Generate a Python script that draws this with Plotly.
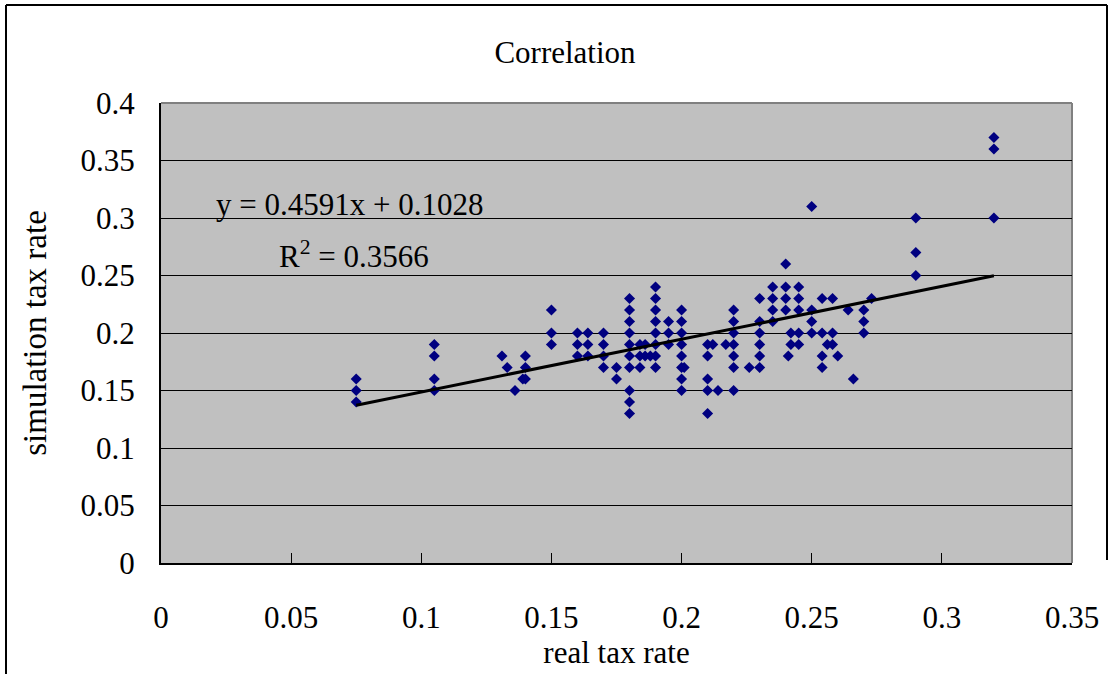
import plotly.graph_objects as go

# real tax rate (x) and simulation tax rate (y)
real_rate = [
    0.075, 0.075, 0.075,
    0.105, 0.105, 0.105, 0.105,
    0.131, 0.133, 0.136, 0.139,
    0.14, 0.14, 0.14,
    0.15, 0.15, 0.15,
    0.16, 0.16, 0.16,
    0.164, 0.164, 0.164,
    0.17, 0.17, 0.17, 0.17,
    0.175, 0.175,
    0.18, 0.18, 0.18, 0.18, 0.18, 0.18, 0.18, 0.18, 0.18, 0.18,
    0.184, 0.184, 0.184,
    0.186, 0.186,
    0.188,
    0.19, 0.19, 0.19, 0.19, 0.19, 0.19, 0.19, 0.19,
    0.195, 0.195, 0.195,
    0.20, 0.20, 0.20, 0.20, 0.20, 0.20, 0.20, 0.20,
    0.201,
    0.21, 0.21, 0.21, 0.21, 0.21,
    0.212, 0.214, 0.217,
    0.22, 0.22, 0.22, 0.22, 0.22, 0.22, 0.22,
    0.226,
    0.23, 0.23, 0.23, 0.23, 0.23, 0.23,
    0.235, 0.235, 0.235, 0.235,
    0.24, 0.24, 0.24, 0.24,
    0.241,
    0.242, 0.242,
    0.245, 0.245, 0.245, 0.245, 0.245,
    0.25, 0.25, 0.25, 0.25,
    0.254, 0.254, 0.254, 0.254,
    0.256,
    0.258, 0.258, 0.258,
    0.26, 0.264, 0.266,
    0.27, 0.27, 0.27,
    0.273,
    0.29, 0.29, 0.29,
    0.32, 0.32, 0.32,
]
sim_rate = [
    0.16, 0.15, 0.14,
    0.19, 0.18, 0.16, 0.15,
    0.18, 0.17, 0.15, 0.16,
    0.18, 0.17, 0.16,
    0.22, 0.20, 0.19,
    0.20, 0.19, 0.18,
    0.20, 0.19, 0.18,
    0.20, 0.19, 0.18, 0.17,
    0.17, 0.16,
    0.23, 0.22, 0.21, 0.20, 0.19, 0.18, 0.17, 0.15, 0.14, 0.13,
    0.19, 0.18, 0.17,
    0.19, 0.18,
    0.18,
    0.24, 0.23, 0.22, 0.21, 0.20, 0.19, 0.18, 0.17,
    0.21, 0.20, 0.19,
    0.22, 0.21, 0.20, 0.19, 0.18, 0.17, 0.16, 0.15,
    0.17,
    0.19, 0.18, 0.16, 0.15, 0.13,
    0.19, 0.15, 0.19,
    0.22, 0.21, 0.20, 0.19, 0.18, 0.17, 0.15,
    0.17,
    0.23, 0.21, 0.20, 0.19, 0.18, 0.17,
    0.24, 0.23, 0.22, 0.21,
    0.26, 0.24, 0.23, 0.22,
    0.18,
    0.20, 0.19,
    0.24, 0.23, 0.22, 0.20, 0.19,
    0.31, 0.22, 0.21, 0.20,
    0.23, 0.20, 0.18, 0.17,
    0.19,
    0.23, 0.20, 0.19,
    0.18, 0.22, 0.16,
    0.22, 0.21, 0.20,
    0.23,
    0.30, 0.27, 0.25,
    0.37, 0.36, 0.30,
]

slope = 0.4591
intercept = 0.1028
r_squared = 0.3566

x_ticks = [0, 0.05, 0.1, 0.15, 0.2, 0.25, 0.3, 0.35]
x_tick_labels = ["0", "0.05", "0.1", "0.15", "0.2", "0.25", "0.3", "0.35"]
y_ticks = [0, 0.05, 0.1, 0.15, 0.2, 0.25, 0.3, 0.35, 0.4]
y_tick_labels = ["0", "0.05", "0.1", "0.15", "0.2", "0.25", "0.3", "0.35", "0.4"]

FONT = "Liberation Serif, Times New Roman, serif"
FS = 31

x_lo, x_hi = min(real_rate), max(real_rate)
trend_x = [x_lo, x_hi]
trend_y = [slope * v + intercept for v in trend_x]

fig = go.Figure()
fig.add_trace(go.Scatter(
    x=real_rate, y=sim_rate, mode="markers",
    marker=dict(symbol="diamond", size=8.5, color="#000080",
                line=dict(width=0)),
    showlegend=False, cliponaxis=False,
))
fig.add_trace(go.Scatter(
    x=trend_x, y=trend_y, mode="lines",
    line=dict(color="black", width=3),
    showlegend=False,
))

W, H = 1113, 674
L, R, T, B = 161, 1072, 103, 563

def px(xp):
    return (xp - L) / (R - L)

def py(yp):
    return (B - yp) / (B - T)

shapes = [
    # grey plot border top and right
    dict(type="line", xref="paper", yref="paper", x0=0, x1=1, y0=1, y1=1,
         line=dict(color="#808080", width=2), layer="below"),
    dict(type="line", xref="paper", yref="paper", x0=1, x1=1, y0=0, y1=1,
         line=dict(color="#808080", width=2), layer="below"),
    # outer frame
    dict(type="line", xref="paper", yref="paper", x0=px(6), x1=px(6),
         y0=py(5), y1=py(680), line=dict(color="black", width=2)),
    dict(type="line", xref="paper", yref="paper", x0=px(6), x1=px(1107),
         y0=py(5), y1=py(5), line=dict(color="black", width=2)),
    dict(type="line", xref="paper", yref="paper", x0=px(1107), x1=px(1107),
         y0=py(5), y1=py(560), line=dict(color="black", width=2)),
]

fig.update_layout(
    width=W, height=H,
    margin=dict(l=L, r=W - R, t=T, b=H - B),
    paper_bgcolor="white", plot_bgcolor="#C0C0C0",
    font=dict(family=FONT, size=FS, color="black"),
    title=dict(text="Correlation", xref="container", x=565 / W,
               xanchor="center", yref="container",
               y=1 - 52 / H, yanchor="middle",
               font=dict(family=FONT, size=FS, color="black")),
    shapes=shapes,
    annotations=[
        dict(x=0.0205, y=0.312, xref="x", yref="y", xanchor="left",
             yanchor="middle", showarrow=False,
             text=f"y = {slope}x + {intercept}",
             font=dict(family=FONT, size=FS, color="black")),
        dict(x=0.0445, y=0.268, xref="x", yref="y", xanchor="left",
             yanchor="middle", showarrow=False,
             text=f"R<sup>2</sup> = {r_squared}",
             font=dict(family=FONT, size=FS, color="black")),
    ],
)
fig.update_xaxes(
    range=[0, 0.35], tickvals=x_ticks, ticktext=x_tick_labels,
    showgrid=False, zeroline=False,
    showline=True, linecolor="black", linewidth=2,
    ticks="inside", ticklen=10, tickcolor="black", tickwidth=1,
    ticklabelstandoff=26,
    tickfont=dict(family=FONT, size=FS, color="black"),
    title=dict(text="real tax rate", standoff=0,
               font=dict(family=FONT, size=FS, color="black")),
)
fig.update_yaxes(
    range=[0, 0.4], tickvals=y_ticks, ticktext=y_tick_labels,
    showgrid=True, gridcolor="black", gridwidth=1, zeroline=False,
    showline=True, linecolor="black", linewidth=2,
    ticks="", ticklabelstandoff=18,
    tickfont=dict(family=FONT, size=FS, color="black"),
    title=dict(text="simulation tax rate", standoff=24,
               font=dict(family=FONT, size=33, color="black")),
)

fig.write_html("out.html")
